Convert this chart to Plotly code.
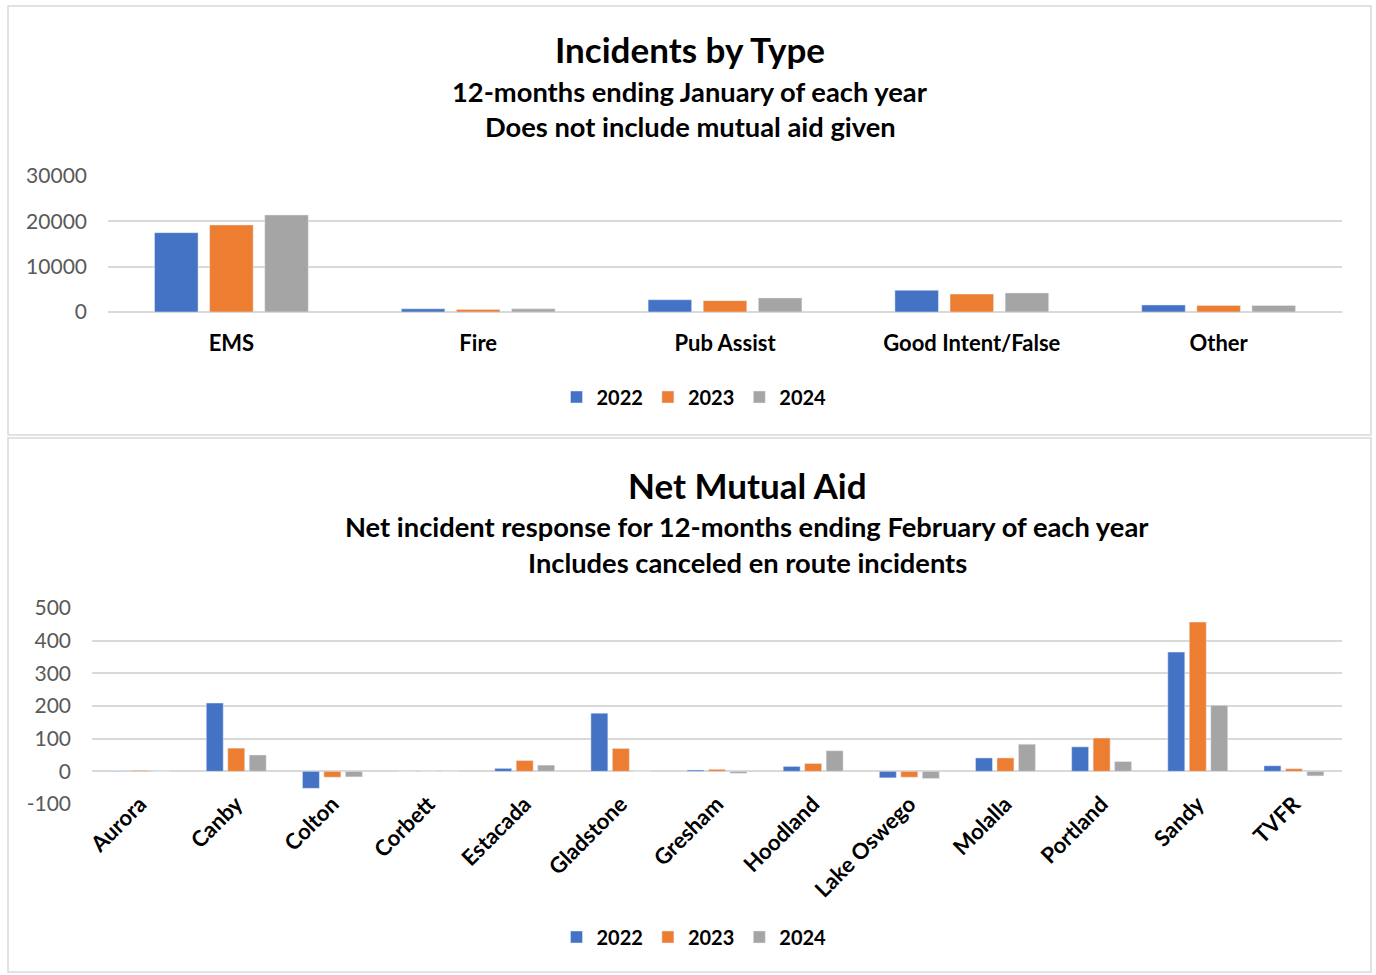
import plotly.graph_objects as go

# ---------------- data ----------------
years = ["2022", "2023", "2024"]
colors = ["#4472C4", "#ED7D31", "#A5A5A5"]

type_categories = ["EMS", "Fire", "Pub Assist", "Good Intent/False", "Other"]
type_2022 = [17500, 700, 2700, 4800, 1550]
type_2023 = [19200, 550, 2500, 3950, 1450]
type_2024 = [21400, 700, 3100, 4200, 1450]

aid_categories = ["Aurora", "Canby", "Colton", "Corbett", "Estacada", "Gladstone",
                  "Gresham", "Hoodland", "Lake Oswego", "Molalla", "Portland",
                  "Sandy", "TVFR"]
aid_2022 = [1, 209, -52, 0, 9, 178, 4, 15, -20, 41, 75, 365, 17]
aid_2023 = [3, 71, -18, 0, 33, 70, 6, 24, -18, 41, 102, 457, 8]
aid_2024 = [0, 50, -17, 0, 19, 0, -6, 63, -22, 83, 30, 202, -14]

type_ticks = [0, 10000, 20000, 30000]
aid_ticks = [-100, 0, 100, 200, 300, 400, 500]

W, H = 1376, 975
FONT = "Lato"

def px(x):
    return x / W

def py(y):
    return 1 - y / H

fig = go.Figure()

for name, vals, c in zip(years, [type_2022, type_2023, type_2024], colors):
    fig.add_trace(go.Bar(x=type_categories, y=vals, name=name, marker_color=c,
                         xaxis="x", yaxis="y", legend="legend", hoverinfo="x+y+name"))
for name, vals, c in zip(years, [aid_2022, aid_2023, aid_2024], colors):
    fig.add_trace(go.Bar(x=aid_categories, y=vals, name=name, marker_color=c,
                         xaxis="x2", yaxis="y2", legend="legend2", hoverinfo="x+y+name"))

grid = "#D9D9D9"
ytick_font = dict(family=FONT, size=21, color="#595959")
xtick_font = dict(family=FONT, size=22, color="#000000", weight="bold")

fig.update_layout(
    width=W, height=H,
    margin=dict(l=0, r=0, t=0, b=0, autoexpand=False),
    paper_bgcolor="white", plot_bgcolor="white",
    barmode="group", bargap=0.33, bargroupgap=0.21,
    font=dict(family=FONT),
    xaxis=dict(domain=[px(108), px(1342)], anchor="y", showgrid=False,
               tickfont=xtick_font, ticks="", ticklabelstandoff=16,
               showline=False, zeroline=False),
    yaxis=dict(domain=[py(312), py(176)], anchor="x", range=[0, 30000],
               tickvals=type_ticks, ticktext=[str(v) for v in type_ticks],
               showgrid=True, gridcolor=grid, gridwidth=1.5,
               zeroline=True, zerolinecolor=grid, zerolinewidth=1.5,
               tickfont=ytick_font, ticklabelstandoff=20),
    xaxis2=dict(domain=[px(92), px(1342)], anchor="free", position=py(786),
                showgrid=False, tickfont=xtick_font, ticks="", tickangle=-45,
                showline=False, zeroline=False),
    yaxis2=dict(domain=[py(804), py(608)], anchor="x2", range=[-100, 500],
                tickvals=aid_ticks, ticktext=[str(v) for v in aid_ticks],
                showgrid=True, gridcolor=grid, gridwidth=1.5,
                zeroline=True, zerolinecolor=grid, zerolinewidth=1.5,
                tickfont=ytick_font, ticklabelstandoff=20),
    legend=dict(orientation="h", x=px(694), xanchor="center", y=py(397), yanchor="middle",
                font=dict(family=FONT, size=20, color="#000000", weight="bold"),
                bgcolor="rgba(0,0,0,0)", traceorder="normal"),
    legend2=dict(orientation="h", x=px(694), xanchor="center", y=py(937), yanchor="middle",
                 font=dict(family=FONT, size=20, color="#000000", weight="bold"),
                 bgcolor="rgba(0,0,0,0)", traceorder="normal"),
    showlegend=True,
)

# chart borders
border = "#D9D9D9"
fig.add_shape(type="rect", xref="paper", yref="paper", x0=px(8), x1=px(1371), y0=py(435), y1=py(6),
              line=dict(color=border, width=1.5), fillcolor="rgba(0,0,0,0)", layer="below")
fig.add_shape(type="rect", xref="paper", yref="paper", x0=px(8), x1=px(1371), y0=py(972), y1=py(438),
              line=dict(color=border, width=1.5), fillcolor="rgba(0,0,0,0)", layer="below")

def title(text, x, y, size):
    fig.add_annotation(text=text, xref="paper", yref="paper", x=px(x), y=py(y),
                       xanchor="center", yanchor="middle", showarrow=False,
                       font=dict(family=FONT, size=size, color="#000000", weight="bold"))

title("Incidents by Type", 690, 49, 35)
title("12-months ending January of each year", 690, 91, 27.3)
title("Does not include mutual aid given", 690, 126, 27.3)
title("Net Mutual Aid", 747, 485, 35)
title("Net incident response for 12-months ending February of each year", 747, 526, 27.3)
title("Includes canceled en route incidents", 747, 562, 27.3)

fig.write_html("out.html", post_script="document.body.style.margin='0';",
               config={"displayModeBar": False})
